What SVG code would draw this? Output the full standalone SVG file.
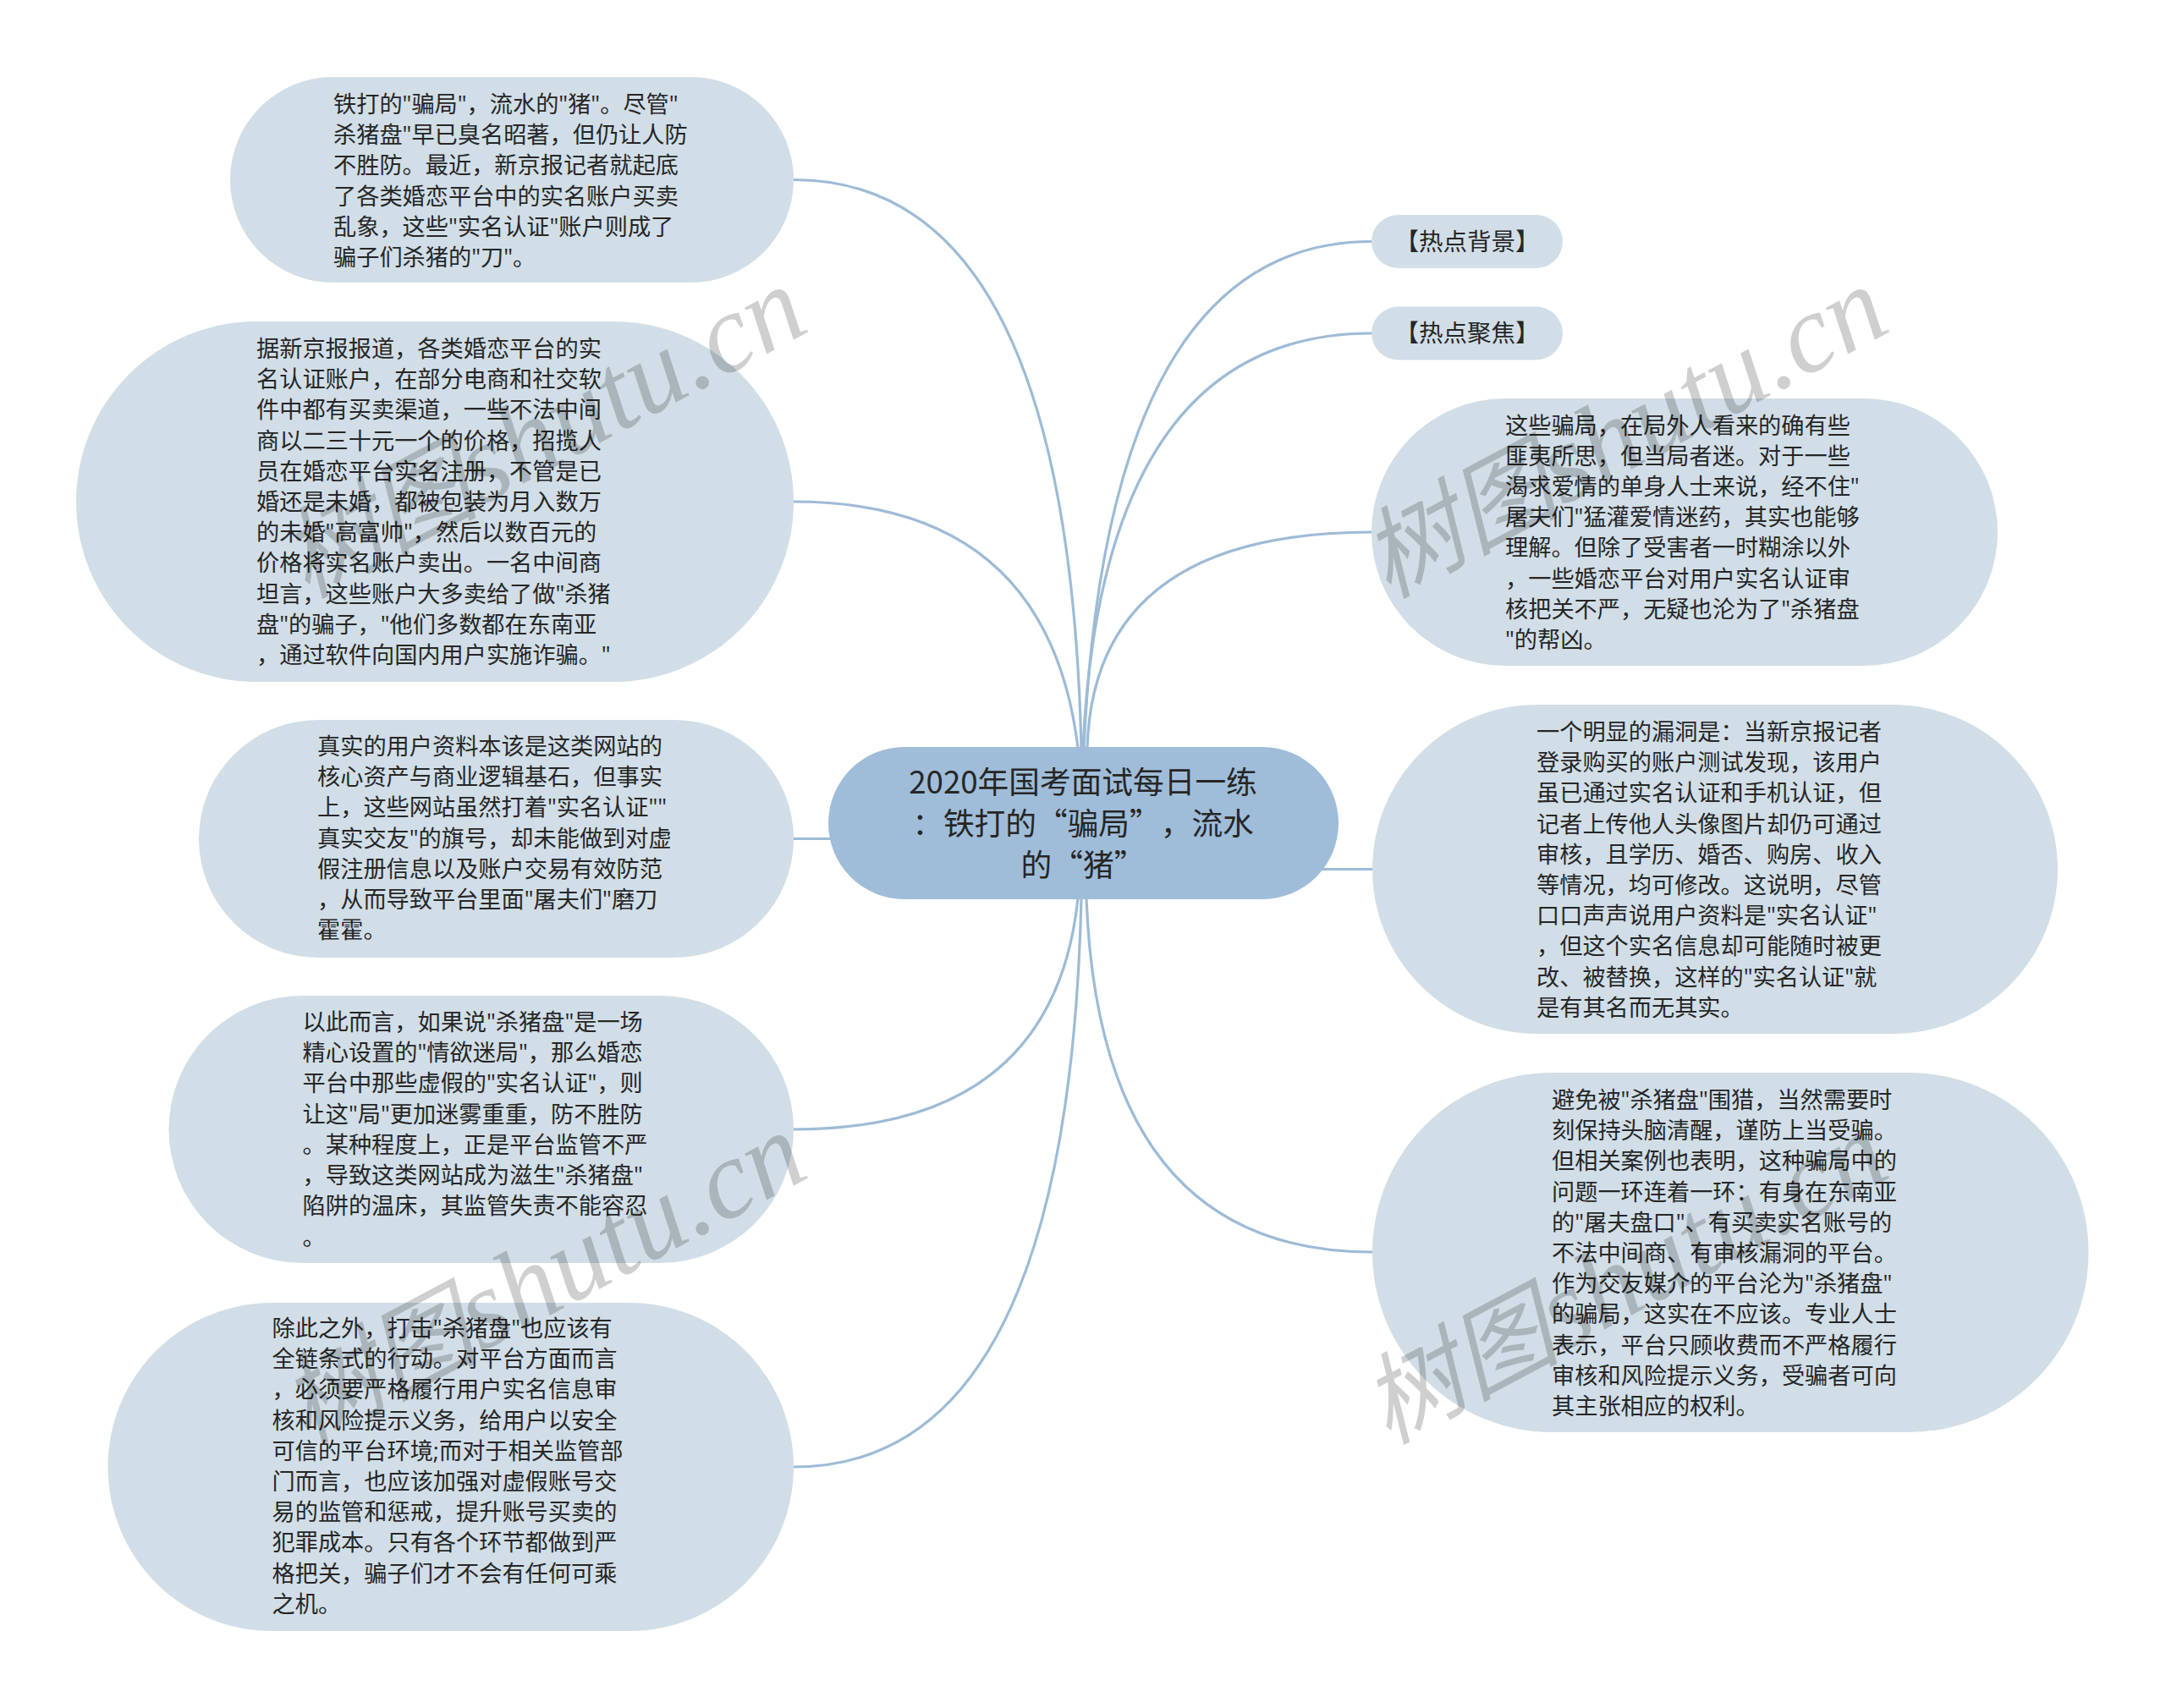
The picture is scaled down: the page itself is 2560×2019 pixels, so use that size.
<svg xmlns="http://www.w3.org/2000/svg" width="2560" height="2019" viewBox="0 0 2560 2019">
<style>
.bg{fill:#fff}
.c{fill:none;stroke:#9dbbd6;stroke-width:3.2}
.n{fill:#d1dee7}
.r{fill:#9fbdd9}
text{font-family:"Noto Sans CJK SC","Noto Sans",sans-serif;fill:#262626;text-spacing-trim:space-all}
.t{font-family:"Open Sans","Noto Sans CJK SC",sans-serif;font-size:27.2px}
.h{font-size:28.5px;text-anchor:middle}
.m{font-size:36.7px;text-anchor:middle}
.w{font-family:"Liberation Serif","Noto Sans CJK SC",serif;font-style:italic;font-size:132px;fill:#000;fill-opacity:.19}
.w .k{font-size:117px}
</style>
<rect class="bg" width="2560" height="2019"/>
<g id="connectors">
<path class="c" d="M938 212.500Q1262 212.500 1278 884"/>
<path class="c" d="M938 593Q1238 593 1274 884"/>
<path class="c" d="M938 991.500L985 991.500"/>
<path class="c" d="M938 1335Q1245 1335 1274 1062"/>
<path class="c" d="M938 1734Q1262 1734 1278 1062"/>
<path class="c" d="M1621 285.500Q1309 285.500 1281 884"/>
<path class="c" d="M1621 394Q1303 394 1280 884"/>
<path class="c" d="M1621 629Q1293 629 1285 884"/>
<path class="c" d="M1622 1027.500L1560 1027.500"/>
<path class="c" d="M1622 1480Q1300 1480 1284 1062"/>
</g>
<g id="root"><rect class="r" x="979" y="883" width="603" height="180" rx="90"/>
<text class="m"><tspan x="1280" y="937.500">2020年国考面试每日一练</tspan><tspan x="1280" y="986.500">：铁打的“骗局”，流水</tspan><tspan x="1280" y="1036">的“猪”</tspan></text></g>
<g id="n1"><rect class="n" x="272" y="91" width="666" height="243" rx="121.500"/>
<text class="t"><tspan x="394" y="133">铁打的"骗局"，流水的"猪"。尽管"</tspan><tspan x="394" y="169.200">杀猪盘"早已臭名昭著，但仍让人防</tspan><tspan x="394" y="205.400">不胜防。最近，新京报记者就起底</tspan><tspan x="394" y="241.600">了各类婚恋平台中的实名账户买卖</tspan><tspan x="394" y="277.800">乱象，这些"实名认证"账户则成了</tspan><tspan x="394" y="314">骗子们杀猪的"刀"。</tspan></text></g>
<g id="n2"><rect class="n" x="90" y="380" width="848" height="426" rx="213"/>
<text class="t"><tspan x="303" y="422">据新京报报道，各类婚恋平台的实</tspan><tspan x="303" y="458.200">名认证账户，在部分电商和社交软</tspan><tspan x="303" y="494.400">件中都有买卖渠道，一些不法中间</tspan><tspan x="303" y="530.600">商以二三十元一个的价格，招揽人</tspan><tspan x="303" y="566.800">员在婚恋平台实名注册，不管是已</tspan><tspan x="303" y="603">婚还是未婚，都被包装为月入数万</tspan><tspan x="303" y="639.200">的未婚"高富帅"，然后以数百元的</tspan><tspan x="303" y="675.400">价格将实名账户卖出。一名中间商</tspan><tspan x="303" y="711.600">坦言，这些账户大多卖给了做"杀猪</tspan><tspan x="303" y="747.800">盘"的骗子，"他们多数都在东南亚</tspan><tspan x="303" y="784">，通过软件向国内用户实施诈骗。"</tspan></text></g>
<g id="n3"><rect class="n" x="235" y="851" width="703" height="281" rx="140.500"/>
<text class="t"><tspan x="375" y="892">真实的用户资料本该是这类网站的</tspan><tspan x="375" y="928.200">核心资产与商业逻辑基石，但事实</tspan><tspan x="375" y="964.400">上，这些网站虽然打着"实名认证""</tspan><tspan x="375" y="1000.600">真实交友"的旗号，却未能做到对虚</tspan><tspan x="375" y="1036.800">假注册信息以及账户交易有效防范</tspan><tspan x="375" y="1073">，从而导致平台里面"屠夫们"磨刀</tspan><tspan x="375" y="1109.200">霍霍。</tspan></text></g>
<g id="n4"><rect class="n" x="199.500" y="1177" width="738.500" height="316" rx="158"/>
<text class="t"><tspan x="357.500" y="1218">以此而言，如果说"杀猪盘"是一场</tspan><tspan x="357.500" y="1254.200">精心设置的"情欲迷局"，那么婚恋</tspan><tspan x="357.500" y="1290.400">平台中那些虚假的"实名认证"，则</tspan><tspan x="357.500" y="1326.600">让这"局"更加迷雾重重，防不胜防</tspan><tspan x="357.500" y="1362.800">。某种程度上，正是平台监管不严</tspan><tspan x="357.500" y="1399">，导致这类网站成为滋生"杀猪盘"</tspan><tspan x="357.500" y="1435.200">陷阱的温床，其监管失责不能容忍</tspan><tspan x="357.500" y="1472.400">。</tspan></text></g>
<g id="n5"><rect class="n" x="127.500" y="1540" width="810.500" height="388" rx="194"/>
<text class="t"><tspan x="321.500" y="1580">除此之外，打击"杀猪盘"也应该有</tspan><tspan x="321.500" y="1616.200">全链条式的行动。对平台方面而言</tspan><tspan x="321.500" y="1652.400">，必须要严格履行用户实名信息审</tspan><tspan x="321.500" y="1688.600">核和风险提示义务，给用户以安全</tspan><tspan x="321.500" y="1724.800">可信的平台环境;而对于相关监管部</tspan><tspan x="321.500" y="1761">门而言，也应该加强对虚假账号交</tspan><tspan x="321.500" y="1797.200">易的监管和惩戒，提升账号买卖的</tspan><tspan x="321.500" y="1833.400">犯罪成本。只有各个环节都做到严</tspan><tspan x="321.500" y="1869.600">格把关，骗子们才不会有任何可乘</tspan><tspan x="321.500" y="1905.800">之机。</tspan></text></g>
<g id="n6"><rect class="n" x="1621" y="254" width="226" height="63" rx="31.500"/>
<text class="h" x="1734" y="295.500">【热点背景】</text></g>
<g id="n7"><rect class="n" x="1621" y="362.500" width="226" height="63" rx="31.500"/>
<text class="h" x="1734" y="404">【热点聚焦】</text></g>
<g id="n8"><rect class="n" x="1621" y="471" width="740" height="316" rx="158"/>
<text class="t"><tspan x="1779" y="512.500">这些骗局，在局外人看来的确有些</tspan><tspan x="1779" y="548.700">匪夷所思，但当局者迷。对于一些</tspan><tspan x="1779" y="584.900">渴求爱情的单身人士来说，经不住"</tspan><tspan x="1779" y="621.100">屠夫们"猛灌爱情迷药，其实也能够</tspan><tspan x="1779" y="657.300">理解。但除了受害者一时糊涂以外</tspan><tspan x="1779" y="693.500">，一些婚恋平台对用户实名认证审</tspan><tspan x="1779" y="729.700">核把关不严，无疑也沦为了"杀猪盘</tspan><tspan x="1779" y="765.900">"的帮凶。</tspan></text></g>
<g id="n9"><rect class="n" x="1622" y="833" width="810" height="389" rx="194.500"/>
<text class="t"><tspan x="1816" y="875">一个明显的漏洞是：当新京报记者</tspan><tspan x="1816" y="911.200">登录购买的账户测试发现，该用户</tspan><tspan x="1816" y="947.400">虽已通过实名认证和手机认证，但</tspan><tspan x="1816" y="983.600">记者上传他人头像图片却仍可通过</tspan><tspan x="1816" y="1019.800">审核，且学历、婚否、购房、收入</tspan><tspan x="1816" y="1056">等情况，均可修改。这说明，尽管</tspan><tspan x="1816" y="1092.200">口口声声说用户资料是"实名认证"</tspan><tspan x="1816" y="1128.400">，但这个实名信息却可能随时被更</tspan><tspan x="1816" y="1164.600">改、被替换，这样的"实名认证"就</tspan><tspan x="1816" y="1200.800">是有其名而无其实。</tspan></text></g>
<g id="n10"><rect class="n" x="1622" y="1268" width="846.500" height="425" rx="212.500"/>
<text class="t"><tspan x="1834" y="1310">避免被"杀猪盘"围猎，当然需要时</tspan><tspan x="1834" y="1346.200">刻保持头脑清醒，谨防上当受骗。</tspan><tspan x="1834" y="1382.400">但相关案例也表明，这种骗局中的</tspan><tspan x="1834" y="1418.600">问题一环连着一环：有身在东南亚</tspan><tspan x="1834" y="1454.800">的"屠夫盘口"、有买卖实名账号的</tspan><tspan x="1834" y="1491">不法中间商、有审核漏洞的平台。</tspan><tspan x="1834" y="1527.200">作为交友媒介的平台沦为"杀猪盘"</tspan><tspan x="1834" y="1563.400">的骗局，这实在不应该。专业人士</tspan><tspan x="1834" y="1599.600">表示，平台只顾收费而不严格履行</tspan><tspan x="1834" y="1635.800">审核和风险提示义务，受骗者可向</tspan><tspan x="1834" y="1672">其主张相应的权利。</tspan></text></g>
<g id="watermarks">
<text class="w" transform="translate(362 708) rotate(-28)"><tspan class="k">树图</tspan>shutu.cn</text>
<text class="w" transform="translate(1640 708) rotate(-28)"><tspan class="k">树图</tspan>shutu.cn</text>
<text class="w" transform="translate(362 1708) rotate(-28)"><tspan class="k">树图</tspan>shutu.cn</text>
<text class="w" transform="translate(1640 1708) rotate(-28)"><tspan class="k">树图</tspan>shutu.cn</text>
</g>
</svg>
